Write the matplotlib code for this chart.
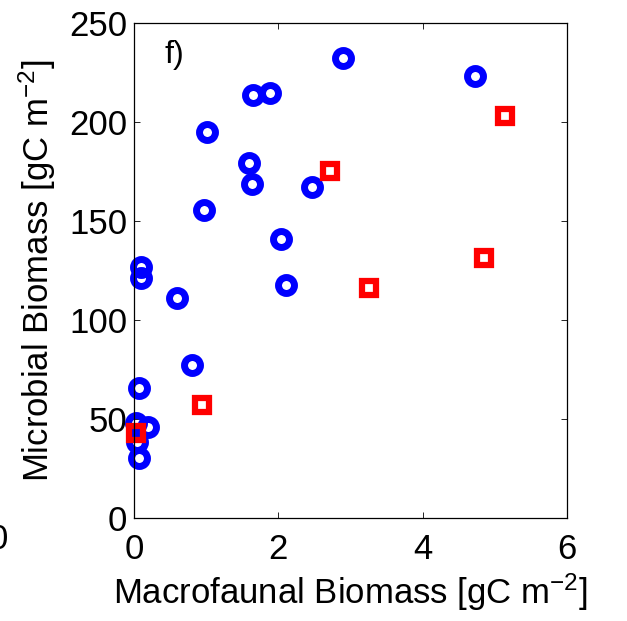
import matplotlib
matplotlib.use("Agg")
import matplotlib.pyplot as plt

plt.rcParams['font.family'] = ['Liberation Sans', 'DejaVu Sans']
plt.rcParams['mathtext.fontset'] = 'custom'
plt.rcParams['mathtext.rm'] = 'Liberation Sans'
plt.rcParams['mathtext.it'] = 'Liberation Sans:italic'

# sites without / with macrofauna sampled at the same station
macro_circ = [2.90, 4.72, 1.65, 1.89, 1.01, 1.60, 1.63, 2.47, 0.97, 2.04,
              2.11, 0.10, 0.10, 0.60, 0.81, 0.07, 0.03, 0.19, 0.04, 0.07]
micro_circ = [232.3, 223.2, 213.6, 214.6, 195.0, 179.3, 168.7, 167.2, 155.6, 140.9,
              117.7, 126.8, 121.2, 111.1, 77.3, 65.7, 48.0, 46.0, 38.4, 30.3]

macro_sq = [5.14, 2.71, 4.85, 3.26, 0.94, 0.03]
micro_sq = [203.0, 175.3, 131.3, 116.2, 57.1, 42.9]

xticks = [0, 2, 4, 6]
yticks = [0, 50, 100, 150, 200, 250]

fig = plt.figure(figsize=(6.27, 6.21), dpi=100)
ax = fig.add_axes([0.2137, 0.1659, 0.6906, 0.797])

ax.plot(macro_circ, micro_circ, linestyle='none', marker='o', markersize=11.5,
        markerfacecolor='none', markeredgecolor='blue', markeredgewidth=5, clip_on=False)
ax.plot(macro_sq, micro_sq, linestyle='none', marker='s', markersize=9.5,
        markerfacecolor='none', markeredgecolor='red', markeredgewidth=4.5, clip_on=False)

ax.set_xlim(0, 6)
ax.set_ylim(0, 250)
ax.set_xticks(xticks)
ax.set_yticks(yticks)
ax.tick_params(direction='in', length=4, width=0.6, top=True, right=True,
               labelsize=25)
ax.tick_params(axis='x', pad=11)
ax.tick_params(axis='y', pad=5)
for s in ax.spines.values():
    s.set_linewidth(0.9)

ax.set_xlabel(r"Macrofaunal Biomass [gC m$^{-2}$]", fontsize=25, labelpad=4)
ax.set_ylabel(r"Microbial Biomass [gC m$^{-2}$]", fontsize=25, labelpad=8)

ax.text(0.07, 0.935, "f)", transform=ax.transAxes, fontsize=23, ha='left', va='center')

# tick label of the neighbouring panel, cut at the edge
fig.text(-0.002, 0.131, "0", fontsize=25, ha='center', va='center')

fig.savefig("out.png", dpi=100)
